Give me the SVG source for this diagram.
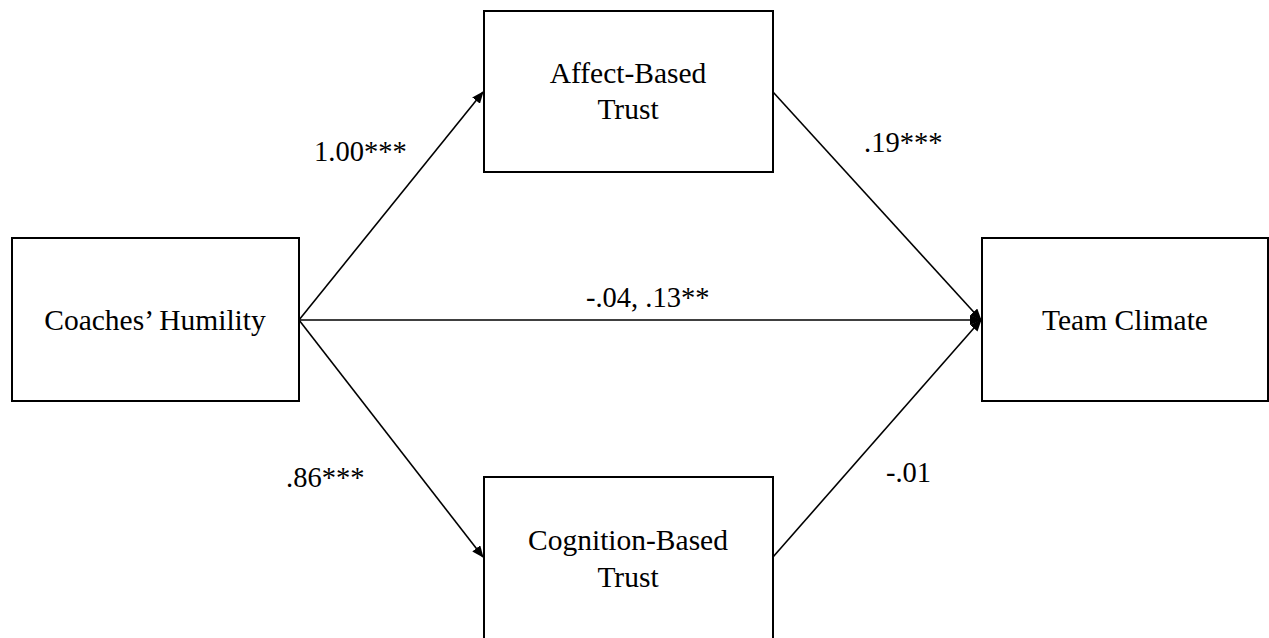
<svg xmlns="http://www.w3.org/2000/svg" width="1269" height="638" viewBox="0 0 1269 638">
<style>
.box{fill:#fff;stroke:#000;stroke-width:2}
.t{font-family:"Liberation Serif",serif;font-size:29.5px;fill:#000;text-anchor:middle}
.l{font-family:"Liberation Serif",serif;font-size:28.5px;fill:#000}
.c{stroke:#000;stroke-width:1.6;fill:none;marker-end:url(#ah)}
</style>
<defs>
<marker id="ah" markerWidth="12" markerHeight="10" refX="11" refY="5" orient="auto" markerUnits="userSpaceOnUse">
<path d="M0,0 L12,5 L0,10 Z" fill="#000"/>
</marker>
</defs>
<rect width="1269" height="638" fill="#fff"/>
<g id="connectors">
<line class="c" x1="299" y1="320" x2="483" y2="92"/>
<line class="c" x1="299" y1="320" x2="483" y2="557"/>
<line class="c" x1="299" y1="320" x2="981" y2="320"/>
<line class="c" x1="773" y1="92" x2="981" y2="320"/>
<line class="c" x1="773" y1="557" x2="981" y2="320"/>
<text class="l" x="314" y="161">1.00***</text>
<text class="l" x="864" y="152">.19***</text>
<text class="l" x="586" y="307">-.04, .13**</text>
<text class="l" x="286" y="487">.86***</text>
<text class="l" x="886" y="482">-.01</text>
</g>
<g id="coaches">
<rect class="box" x="12" y="238" width="287" height="163"/>
<text class="t" x="155" y="330">Coaches’ Humility</text>
</g>
<g id="affect">
<rect class="box" x="484" y="11" width="289" height="161"/>
<text class="t" x="628" y="83">Affect-Based</text>
<text class="t" x="628" y="119">Trust</text>
</g>
<g id="cognition">
<rect class="box" x="484" y="477" width="289" height="200"/>
<text class="t" x="628" y="550">Cognition-Based</text>
<text class="t" x="628" y="587">Trust</text>
</g>
<g id="team">
<rect class="box" x="982" y="238" width="286" height="163"/>
<text class="t" x="1125" y="330">Team Climate</text>
</g>
</svg>
